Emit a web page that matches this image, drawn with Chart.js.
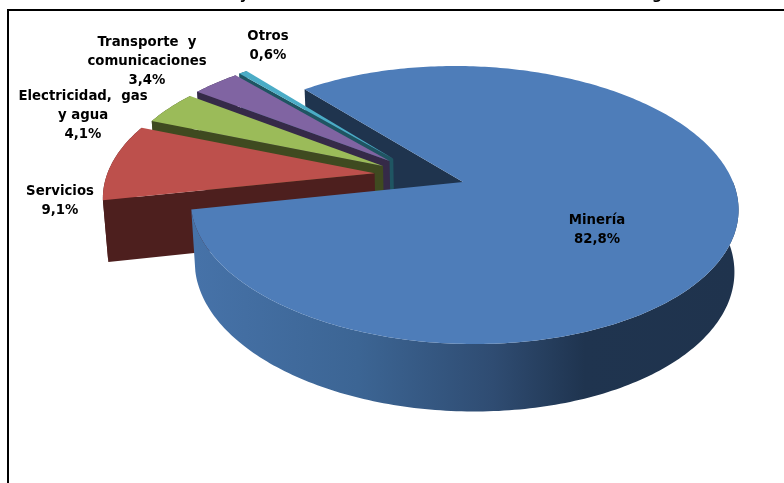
<!DOCTYPE html>
<html>
<head>
<meta charset="utf-8">
<script src="https://cdn.jsdelivr.net/npm/chart.js@4"></script>
<style>
  html, body { margin: 0; padding: 0; background: #fff; overflow: hidden; }
  #frame { position: absolute; left: 7px; top: 9px; right: 0; bottom: 0; border-left: 2px solid #000; border-top: 2px solid #000; }
  #pie { position: absolute; left: 0; top: 0; }
</style>
</head>
<body>
<div id="frame"></div>
<canvas id="pie" width="784" height="483"></canvas>
<script>
const categories = ['Minería', 'Servicios', 'Electricidad,  gas\ny agua', 'Transporte  y\ncomunicaciones', 'Otros'];
const shares = [82.8, 9.1, 4.1, 3.4, 0.6];

const topColors = ['#4e7db9', '#bd504c', '#9bbb59', '#8064a2', '#4bacc6'];
const wallColors = ['#1f344e', '#4d1f1e', '#3f4a20', '#352a48', '#1f5562'];
const sliceOffsets = [0, 66, 68, 74, 80];
const sliceLifts = [0, 0.045, 0.01, -0.01, -0.03];
// centre x, first line y for each label
const labelSpots = [[597, 221], [60, 192], [83, 97], [147, 43], [268, 37]];

// --- fake 3D view of the flat pie ---
const RADIUS = 200;
const SCALE_X = 1.35, SCALE_Y = 0.676;
const PERSPECTIVE = -0.1655, SHEAR = 0.07;
const DEPTH = 61, LOW_X = 0.985, LOW_Y = 1.04, OFFSET_V = 0.68;

function project(el, u, v, low) {
    const w = 1 + PERSPECTIVE * v;
    let y = SCALE_Y * el.outerRadius * v / w;
    let x = SCALE_X * el.outerRadius * u / w + SHEAR * y;
    if (low) {
        x *= LOW_X;
        y = y * LOW_Y + DEPTH;
    }
    return [el.x + x, el.y + y];
}

function sliceShift(el, index) {
    const mid = (el.startAngle + el.endAngle) / 2;
    const d = sliceOffsets[index] / el.outerRadius;
    return [Math.cos(mid) * d, Math.sin(mid) * d * OFFSET_V - sliceLifts[index]];
}

function arcPoints(el, index, low, frontOnly) {
    const [du, dv] = sliceShift(el, index);
    const pts = [];
    const steps = Math.max(4, Math.round((el.endAngle - el.startAngle) * 60));
    for (let i = 0; i <= steps; i++) {
        const a = el.startAngle + (el.endAngle - el.startAngle) * i / steps;
        if (frontOnly && Math.sin(a) < -0.02) continue;
        pts.push(project(el, Math.cos(a) + du, Math.sin(a) + dv, low));
    }
    return pts;
}

function fillPoints(ctx, pts, color) {
    ctx.beginPath();
    pts.forEach((p, i) => i ? ctx.lineTo(p[0], p[1]) : ctx.moveTo(p[0], p[1]));
    ctx.closePath();
    ctx.fillStyle = color;
    ctx.fill();
}

function drawEdgeWall(ctx, el, index) {
    const [du, dv] = sliceShift(el, index);
    const cosA = Math.cos(el.startAngle), sinA = Math.sin(el.startAngle);
    fillPoints(ctx, [
        project(el, du, dv, false),
        project(el, cosA + du, sinA + dv, false),
        project(el, cosA + du, sinA + dv, true),
        project(el, du, dv, true)
    ], wallColors[index]);
}

function drawOuterWall(ctx, el, index, color, frontOnly) {
    const pts = arcPoints(el, index, false, frontOnly).concat(arcPoints(el, index, true, frontOnly).reverse());
    fillPoints(ctx, pts, color);
}

function drawTop(ctx, el, index) {
    const [du, dv] = sliceShift(el, index);
    fillPoints(ctx, [project(el, du, dv, false)].concat(arcPoints(el, index, false)), topColors[index]);
}

const pie3d = {
    id: 'pie3d',
    beforeDatasetsDraw(chart) {
        const ctx = chart.ctx;
        const arcs = chart.getDatasetMeta(0).data;

        // back to front: notch wall, small slices, then the big slice
        drawEdgeWall(ctx, arcs[0], 0);
        for (let i = arcs.length - 1; i >= 1; i--) {
            drawOuterWall(ctx, arcs[i], i, wallColors[i]);
            drawEdgeWall(ctx, arcs[i], i);
            drawTop(ctx, arcs[i], i);
        }

        const shade = ctx.createLinearGradient(196, 0, 736, 0);
        shade.addColorStop(0, '#4672a8');
        shade.addColorStop(0.3, '#3c6594');
        shade.addColorStop(0.55, '#2f4c72');
        shade.addColorStop(0.72, '#1f344f');
        shade.addColorStop(1, '#1f334d');
        drawOuterWall(ctx, arcs[0], 0, shade, true);
        drawTop(ctx, arcs[0], 0);
        return false;
    },
    afterDraw(chart) {
        const ctx = chart.ctx;
        ctx.save();
        ctx.fillStyle = '#000';
        ctx.font = 'bold 13.3px "DejaVu Sans"';
        ctx.textAlign = 'center';
        ctx.textBaseline = 'middle';
        categories.forEach((name, i) => {
            const value = shares[i].toFixed(1).replace('.', ',') + '%';
            const lines = name.split('\n').concat(value);
            lines.forEach((line, j) => {
                ctx.fillText(line, labelSpots[i][0], labelSpots[i][1] + j * 19);
            });
        });
        // title sits above the crop, only its descenders show
        ctx.font = 'bold 14px "DejaVu Sans"';
        ctx.textBaseline = 'alphabetic';
        ctx.fillText('y', 244, -1);
        ctx.fillText('g', 657, -1);
        ctx.restore();
    }
};

new Chart(document.getElementById('pie'), {
    type: 'pie',
    data: {
        labels: categories,
        datasets: [{
            data: shares,
            backgroundColor: topColors,
            offset: sliceOffsets,
            borderWidth: 0,
            radius: RADIUS
        }]
    },
    options: {
        responsive: false,
        animation: false,
        rotation: 320.6,
        layout: { padding: { left: 142, bottom: 119 } },
        plugins: { legend: { display: false }, tooltip: { enabled: false } }
    },
    plugins: [pie3d]
});
</script>
</body>
</html>
